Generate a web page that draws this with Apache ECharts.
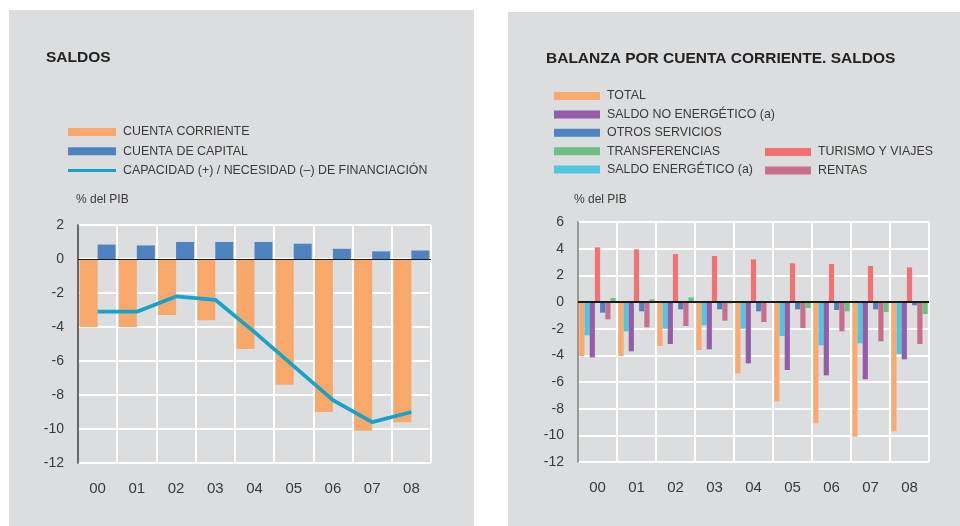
<!DOCTYPE html>
<html>
<head>
<meta charset="utf-8">
<title>Saldos</title>
<script src="https://cdn.jsdelivr.net/npm/echarts@6/dist/echarts.min.js"></script>
<style>
  html, body { margin: 0; padding: 0; background: #fff; }
  #chart { width: 960px; height: 526px; }
</style>
</head>
<body>
<div id="chart"></div>
<script>
const years = ['00', '01', '02', '03', '04', '05', '06', '07', '08']

// left panel: saldos
const cuentaCorriente = [-4.0, -4.0, -3.3, -3.6, -5.3, -7.4, -9.0, -10.1, -9.6]
const cuentaCapital = [0.85, 0.8, 1.0, 1.0, 1.0, 0.9, 0.6, 0.45, 0.5]
const capacidad = [-3.1, -3.1, -2.2, -2.4, -4.3, -6.3, -8.3, -9.6, -9.0]

// right panel: balanza por cuenta corriente
const total = [-4.05, -4.05, -3.3, -3.6, -5.35, -7.45, -9.1, -10.1, -9.7]
const saldoEnergetico = [-2.5, -2.2, -2.0, -1.75, -2.0, -2.55, -3.25, -3.1, -3.9]
const saldoNoEnergetico = [-4.15, -3.7, -3.15, -3.55, -4.6, -5.1, -5.5, -5.8, -4.3]
const turismo = [4.1, 3.95, 3.6, 3.45, 3.2, 2.9, 2.85, 2.7, 2.6]
const otrosServicios = [-0.8, -0.7, -0.55, -0.55, -0.7, -0.55, -0.6, -0.55, -0.25]
const rentas = [-1.3, -1.9, -1.8, -1.4, -1.5, -1.95, -2.2, -2.95, -3.15]
const transferencias = [0.3, 0.2, 0.35, -0.1, 0, -0.45, -0.7, -0.75, -0.9]

const leftTicks = { min: -12, max: 2, interval: 2 }
const rightTicks = { min: -12, max: 6, interval: 2 }

const FONT = 'Liberation Sans, Arial, sans-serif'
const TEXT = '#3a3a3a'
const PANEL = '#dcdddf'

const chart = echarts.init(document.getElementById('chart'))

function xAxisFor(gridIndex) {
  return {
    type: 'category',
    gridIndex: gridIndex,
    data: years,
    axisLine: { show: false, onZero: false },
    axisTick: { show: false },
    axisLabel: { color: TEXT, fontSize: 15, fontFamily: FONT, margin: 18 },
    splitLine: { show: true, lineStyle: { color: '#fff', width: 2 } }
  }
}

function yAxisFor(gridIndex, ticks, axisColor, nameGap, namePad) {
  return {
    type: 'value',
    gridIndex: gridIndex,
    min: ticks.min,
    max: ticks.max,
    interval: ticks.interval,
    name: '% del PIB',
    nameLocation: 'end',
    nameGap: nameGap,
    nameTextStyle: { color: TEXT, fontSize: 12, fontFamily: FONT, align: 'left', padding: [0, 0, 0, namePad] },
    axisLine: { show: true, lineStyle: { color: axisColor, width: 1.5 } },
    axisTick: { show: false },
    axisLabel: { color: TEXT, fontSize: 14, fontFamily: FONT, margin: 14 },
    splitLine: { show: true, lineStyle: { color: '#fff', width: 2 } }
  }
}

function zeroLine(width) {
  return {
    silent: true,
    symbol: 'none',
    label: { show: false },
    lineStyle: { color: '#1a1a1a', width: width, type: 'solid' },
    data: [{ yAxis: 0 }]
  }
}

function smallBar(name, data, color) {
  return {
    name: name,
    type: 'bar',
    xAxisIndex: 1,
    yAxisIndex: 1,
    data: data,
    barWidth: 5.2,
    barGap: '0%',
    itemStyle: { color: color }
  }
}

const legendText = { color: TEXT, fontSize: 12.4, fontFamily: FONT, padding: [0, 0, 0, 2] }

chart.setOption({
  animation: false,
  backgroundColor: '#fff',
  textStyle: { fontFamily: FONT },
  graphic: [
    { type: 'rect', z: -10, shape: { x: 9, y: 10, width: 465, height: 520 }, style: { fill: PANEL } },
    { type: 'rect', z: -10, shape: { x: 508, y: 12, width: 460, height: 520 }, style: { fill: PANEL } }
  ],
  title: [
    {
      text: 'SALDOS',
      left: 41,
      top: 45,
      textStyle: { color: '#222', fontSize: 15.5, fontWeight: 'bold', fontFamily: FONT }
    },
    {
      text: 'BALANZA POR CUENTA CORRIENTE. SALDOS',
      left: 541,
      top: 46,
      textStyle: { color: '#222', fontSize: 15.5, fontWeight: 'bold', fontFamily: FONT }
    }
  ],
  legend: [
    {
      orient: 'vertical',
      left: 63,
      top: 121,
      itemWidth: 48,
      itemHeight: 8,
      itemGap: 7.2,
      textStyle: legendText,
      data: [
        { name: 'CUENTA CORRIENTE', icon: 'rect' },
        { name: 'CUENTA DE CAPITAL', icon: 'rect' },
        { name: 'CAPACIDAD (+) / NECESIDAD (–) DE FINANCIACIÓN', icon: 'path://M0,0 L48,0 L48,3 L0,3 Z' }
      ]
    },
    {
      orient: 'vertical',
      left: 549,
      top: 85,
      itemWidth: 46,
      itemHeight: 8,
      itemGap: 6.4,
      icon: 'rect',
      textStyle: legendText,
      data: ['TOTAL', 'SALDO NO ENERGÉTICO (a)', 'OTROS SERVICIOS', 'TRANSFERENCIAS', 'SALDO ENERGÉTICO (a)']
    },
    {
      orient: 'vertical',
      left: 760,
      top: 141,
      itemWidth: 46,
      itemHeight: 8,
      itemGap: 6.4,
      icon: 'rect',
      textStyle: legendText,
      data: ['TURISMO Y VIAJES', 'RENTAS']
    }
  ],
  grid: [
    { left: 78, right: 529, top: 225, bottom: 63 },
    { left: 578, right: 31, top: 222, bottom: 64 }
  ],
  xAxis: [xAxisFor(0), xAxisFor(1)],
  yAxis: [yAxisFor(0, leftTicks, '#333', 19, -2), yAxisFor(1, rightTicks, '#777', 16, -4)],
  series: [
    {
      name: 'CUENTA CORRIENTE',
      type: 'bar',
      xAxisIndex: 0,
      yAxisIndex: 0,
      data: cuentaCorriente,
      barWidth: 18,
      barGap: '0%',
      itemStyle: { color: '#f9a86c' },
      markLine: zeroLine(1)
    },
    {
      name: 'CUENTA DE CAPITAL',
      type: 'bar',
      xAxisIndex: 0,
      yAxisIndex: 0,
      data: cuentaCapital,
      barWidth: 18,
      barGap: '0%',
      itemStyle: { color: '#4f83c0' }
    },
    {
      name: 'CAPACIDAD (+) / NECESIDAD (–) DE FINANCIACIÓN',
      type: 'line',
      xAxisIndex: 0,
      yAxisIndex: 0,
      data: capacidad,
      symbol: 'none',
      z: 5,
      lineStyle: { color: '#17a2c9', width: 3.8 },
      itemStyle: { color: '#17a2c9' }
    },
    Object.assign(smallBar('TOTAL', total, '#fba96f'), { markLine: zeroLine(2) }),
    smallBar('SALDO ENERGÉTICO (a)', saldoEnergetico, '#52c5df'),
    smallBar('SALDO NO ENERGÉTICO (a)', saldoNoEnergetico, '#955ca8'),
    smallBar('TURISMO Y VIAJES', turismo, '#f27273'),
    smallBar('OTROS SERVICIOS', otrosServicios, '#4f83c0'),
    smallBar('RENTAS', rentas, '#c96e8d'),
    smallBar('TRANSFERENCIAS', transferencias, '#6cc180')
  ]
})
</script>
</body>
</html>
